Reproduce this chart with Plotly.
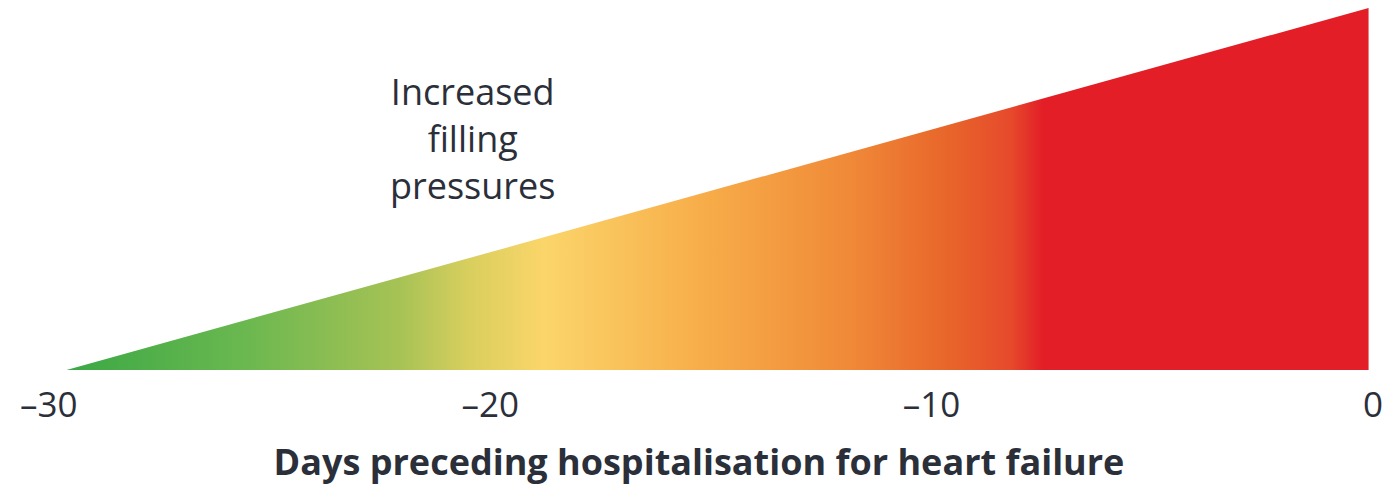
import plotly.graph_objects as go

# Data
days = [-29.6, -0.1, -0.1, -29.6]          # triangle outline along the day axis
pressure = [0, 0, 1, 0]                    # relative filling pressure
tick_vals = [-30, -20, -10, 0]
tick_text = ["–30", "–20", "–10", "0"]
gradient_stops = [0.0, 0.14, 0.255, 0.31, 0.367, 0.486, 0.60, 0.678, 0.725, 0.75, 1.0]
gradient_colors = ["#3aa845", "#6cb850", "#a6c255", "#d9cf5e", "#fbd56a", "#f7ae4a",
                   "#f08a38", "#e8652a", "#e64a2c", "#e31e27", "#e31e27"]
label_text = "Increased<br>filling<br>pressures"
axis_title = "Days preceding hospitalisation for heart failure"

TEXT = "#2b2f3a"
FONT = "Open Sans"

fig = go.Figure()
fig.add_trace(go.Scatter(
    x=days, y=pressure, mode="lines", fill="toself",
    line=dict(width=0),
    fillgradient=dict(type="horizontal",
                      colorscale=[[s, c] for s, c in zip(gradient_stops, gradient_colors)]),
    hoverinfo="skip", showlegend=False,
))

fig.add_annotation(x=-20.4, y=0.64, xref="x", yref="y", text=label_text,
                   showarrow=False, font=dict(family=FONT, size=36, color=TEXT),
                   align="center")

fig.update_layout(
    width=1390, height=479,
    margin=dict(l=2, r=10, t=0, b=117),
    paper_bgcolor="white", plot_bgcolor="white",
    xaxis=dict(range=[-30.88, 0.34], tickvals=tick_vals, ticktext=tick_text,
               showgrid=False, zeroline=False, showline=False, ticks="",
               ticklabelstandoff=11,
               tickfont=dict(family=FONT, size=35, color=TEXT),
               title=dict(text="<b>" + axis_title + "</b>", standoff=23,
                          font=dict(family=FONT, size=36, color=TEXT))),
    yaxis=dict(range=[0, 1], visible=False),
)

fig.write_html("out.html")
